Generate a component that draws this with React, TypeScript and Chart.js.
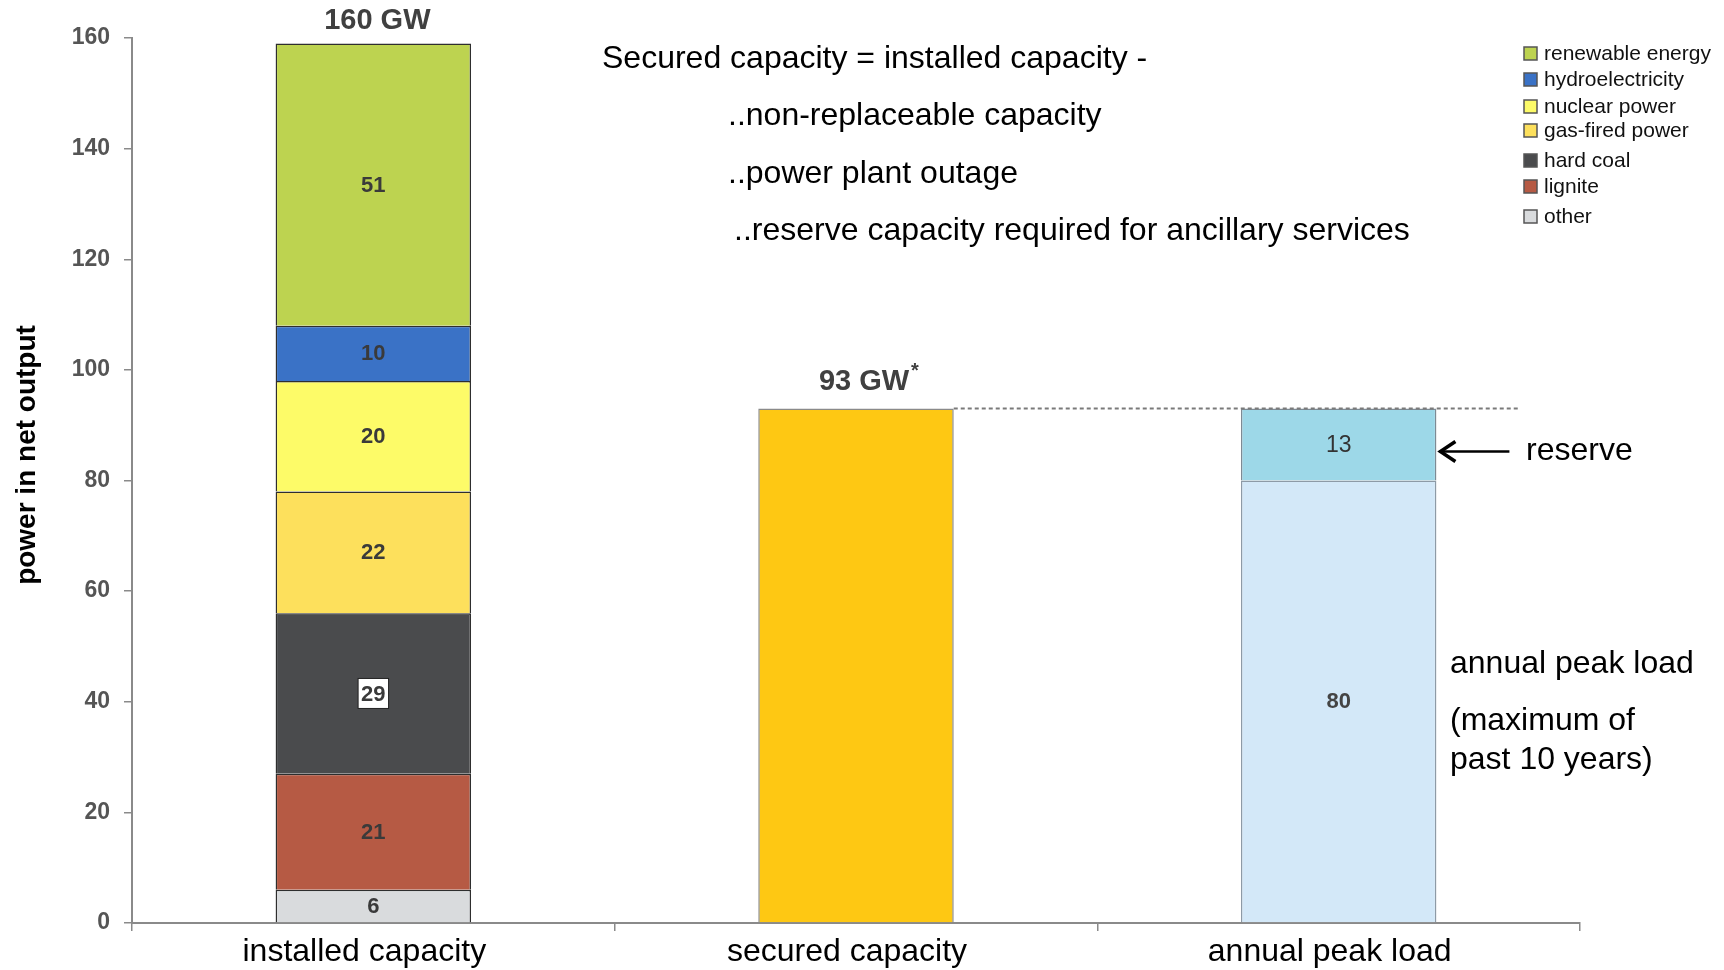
import React, { useEffect, useRef } from "react";
import { Chart, registerables } from "chart.js";

Chart.register(...registerables);

// Categories on the x axis
const categories = ["installed capacity", "secured capacity", "annual peak load"];

// Installed capacity by source (GW), stacked bottom to top
const installedSources = [
  "other",
  "lignite",
  "hard coal",
  "gas-fired power",
  "nuclear power",
  "hydroelectricity",
  "renewable energy",
];
const installedValues = [6, 21, 29, 22, 20, 10, 51];
const installedColors = [
  "#d9dbdd",
  "#b65a44",
  "#4a4b4d",
  "#fde05c",
  "#fdfb68",
  "#3a72c6",
  "#bdd350",
];

// Secured capacity and annual peak load (GW)
const securedValue = 93;
const peakLoadValue = 80;
const reserveValue = 13;

// Text totals shown above the bars
const installedTotalLabel = "160 GW";
const securedTotalLabel = "93 GW";

// Formula block in the upper part of the chart
const formulaLines = [
  "Secured capacity = installed capacity -",
  "..non-replaceable capacity",
  "..power plant outage",
  "..reserve capacity required for ancillary services",
];

// Legend entries (top to bottom)
const legendSources = [
  "renewable energy",
  "hydroelectricity",
  "nuclear power",
  "gas-fired power",
  "hard coal",
  "lignite",
  "other",
];

const FONT = "'Liberation Sans', Arial, Helvetica, sans-serif";

export default function App() {
  const canvasRef = useRef<HTMLCanvasElement | null>(null);

  useEffect(() => {
    const canvas = canvasRef.current;
    if (!canvas) return;

    const datasets: any[] = installedSources.map((name, i) => ({
      label: name,
      data: [installedValues[i], null, null],
      backgroundColor: installedColors[i],
      borderColor: "#2e2e2e",
      borderWidth: 1.5,
      showValue: true,
      valueBox: name === "hard coal",
      valueColor: "#3a3a3a",
    }));
    datasets.push({
      label: "secured capacity",
      data: [null, securedValue, null],
      backgroundColor: "#fec813",
      borderColor: "#8a8a8a",
      borderWidth: 1.5,
      showValue: false,
    });
    datasets.push({
      label: "annual peak load",
      data: [null, null, peakLoadValue],
      backgroundColor: "#d3e8f8",
      borderColor: "#8d9aa6",
      borderWidth: 1.5,
      showValue: true,
      valueColor: "#444",
    });
    datasets.push({
      label: "reserve",
      data: [null, null, reserveValue],
      backgroundColor: "#9dd8e8",
      borderColor: "#7d8a94",
      borderWidth: 1.5,
      showValue: true,
      valueColor: "#333",
      valueFont: "normal 23px 'Liberation Sans Narrow', " + FONT,
    });

    const colorByName: Record<string, string> = {};
    installedSources.forEach((n, i) => (colorByName[n] = installedColors[i]));

    const valueLabels = {
      id: "valueLabels",
      afterDatasetsDraw(chart: any) {
        const ctx = chart.ctx;
        ctx.save();
        ctx.textAlign = "center";
        ctx.textBaseline = "middle";
        chart.data.datasets.forEach((ds: any, di: number) => {
          if (!ds.showValue) return;
          const meta = chart.getDatasetMeta(di);
          meta.data.forEach((el: any, j: number) => {
            const v = ds.data[j];
            if (v == null) return;
            const cx = el.x;
            const cy = (el.y + el.base) / 2;
            ctx.font = ds.valueFont || "bold 22px " + FONT;
            const txt = String(v);
            if (ds.valueBox) {
              const w = ctx.measureText(txt).width + 6;
              ctx.fillStyle = "#ffffff";
              ctx.fillRect(cx - w / 2, cy - 15, w, 30);
              ctx.strokeStyle = "#222";
              ctx.lineWidth = 1;
              ctx.strokeRect(cx - w / 2, cy - 15, w, 30);
            }
            ctx.fillStyle = ds.valueColor || "#333";
            ctx.fillText(txt, cx, cy + 1);
          });
        });
        ctx.restore();
      },
    };

    const annotations = {
      id: "annotations",
      afterDraw(chart: any) {
        const ctx = chart.ctx;
        const y = chart.scales.y;
        ctx.save();

        // y axis title
        ctx.save();
        ctx.translate(27, 455);
        ctx.rotate(-Math.PI / 2);
        ctx.font = "bold 28px " + FONT;
        ctx.fillStyle = "#000";
        ctx.textAlign = "center";
        ctx.textBaseline = "middle";
        ctx.fillText("power in net output", 0, 0);
        ctx.restore();

        // totals above bars
        const installedTop = chart.getDatasetMeta(installedSources.length - 1).data[0];
        ctx.font = "bold 29px " + FONT;
        ctx.fillStyle = "#404040";
        ctx.textAlign = "center";
        ctx.textBaseline = "middle";
        ctx.fillText(installedTotalLabel, installedTop.x + 4, installedTop.y - 23);

        const securedEl = chart.getDatasetMeta(installedSources.length).data[1];
        ctx.font = "bold 29px " + FONT;
        const sw = ctx.measureText(securedTotalLabel).width;
        const sx = securedEl.x + 8;
        const sy = securedEl.y - 27;
        ctx.fillText(securedTotalLabel, sx, sy);
        ctx.font = "bold 20px " + FONT;
        ctx.textAlign = "left";
        ctx.fillText("*", sx + sw / 2 + 2, sy - 10);

        // dashed line at secured level
        const yLine = y.getPixelForValue(securedValue);
        const peakEl = chart.getDatasetMeta(chart.data.datasets.length - 1).data[2];
        const peakRight = peakEl.x + peakEl.width / 2;
        ctx.strokeStyle = "#7a7a7a";
        ctx.lineWidth = 2;
        ctx.setLineDash([4, 3]);
        ctx.beginPath();
        ctx.moveTo(securedEl.x + securedEl.width / 2, yLine);
        ctx.lineTo(peakRight + 83, yLine);
        ctx.stroke();
        ctx.setLineDash([]);

        // arrow pointing at reserve
        const ay = (peakEl.y + peakEl.base) / 2 + 7;
        const ax = peakRight + 1;
        ctx.strokeStyle = "#000";
        ctx.lineWidth = 2.5;
        ctx.beginPath();
        ctx.moveTo(ax + 2, ay);
        ctx.lineTo(ax + 72, ay);
        ctx.stroke();
        ctx.lineWidth = 3.5;
        ctx.beginPath();
        ctx.moveTo(ax + 18, ay - 10);
        ctx.lineTo(ax + 3, ay);
        ctx.lineTo(ax + 18, ay + 10);
        ctx.stroke();

        ctx.font = "32px " + FONT;
        ctx.fillStyle = "#000";
        ctx.textAlign = "left";
        ctx.textBaseline = "middle";
        ctx.fillText("reserve", 1526, ay);

        ctx.fillText("annual peak load", 1450, 664);
        ctx.fillText("(maximum of", 1450, 721);
        ctx.fillText("past 10 years)", 1450, 760);

        // formula block
        const fx = [602, 728, 728, 734];
        const fy = [59, 116, 174, 231];
        formulaLines.forEach((t, i) => ctx.fillText(t, fx[i], fy[i]));

        // legend
        ctx.font = "21px " + FONT;
        const ly = [54, 80, 107, 131, 161, 187, 217];
        legendSources.forEach((name, i) => {
          const yy = ly[i];
          ctx.fillStyle = colorByName[name];
          ctx.fillRect(1524, yy - 7, 13, 13);
          ctx.strokeStyle = "#555";
          ctx.lineWidth = 1.5;
          ctx.strokeRect(1524, yy - 7, 13, 13);
          ctx.fillStyle = "#111";
          ctx.textBaseline = "middle";
          ctx.fillText(name, 1544, yy);
        });

        ctx.restore();
      },
    };

    const chart = new Chart(canvas, {
      type: "bar",
      data: { labels: categories, datasets },
      plugins: [valueLabels, annotations],
      options: {
        responsive: false,
        animation: false,
        layout: { padding: { left: 0, top: 38, right: 144, bottom: 0 } },
        plugins: {
          legend: { display: false },
          tooltip: { enabled: false },
        },
        datasets: {
          bar: { categoryPercentage: 1, barPercentage: 0.405 },
        },
        scales: {
          x: {
            stacked: true,
            afterFit: (s: any) => {
              s.height = 47;
            },
            grid: {
              drawOnChartArea: false,
              drawTicks: true,
              tickLength: 8,
              color: "#8a8a8a",
              lineWidth: 1.5,
            },
            border: { color: "#8a8a8a", width: 2 },
            ticks: {
              color: "#000",
              padding: 2,
              labelOffset: -9,
              font: { family: FONT, size: 32 },
            },
          },
          y: {
            stacked: true,
            min: 0,
            max: 160,
            afterFit: (s: any) => {
              s.width = 132;
            },
            grid: {
              drawOnChartArea: false,
              drawTicks: true,
              tickLength: 8,
              color: "#8a8a8a",
              lineWidth: 1.5,
            },
            border: { color: "#8a8a8a", width: 2 },
            ticks: {
              stepSize: 20,
              color: "#555",
              padding: 14,
              font: { family: FONT, size: 23, weight: "bold" },
            },
          },
        },
      } as any,
    });

    return () => chart.destroy();
  }, []);

  return (
    <div
      style={{
        position: "absolute",
        left: 0,
        top: 0,
        width: 1724,
        height: 970,
        background: "#fff",
      }}
    >
      <canvas ref={canvasRef} width={1724} height={970} />
    </div>
  );
}
